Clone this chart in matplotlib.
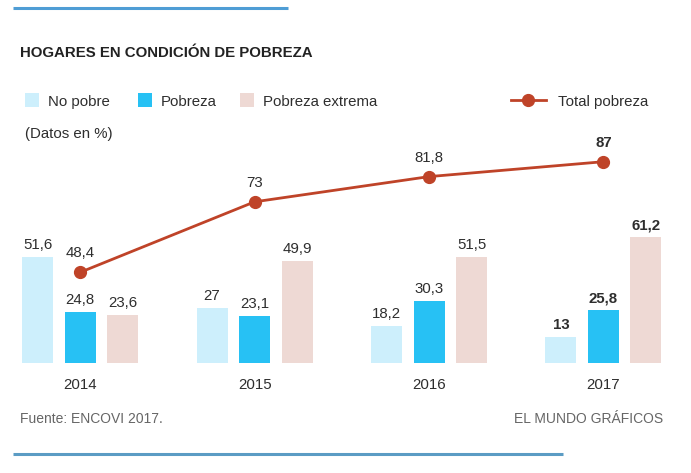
import matplotlib
matplotlib.use("Agg")
import matplotlib.pyplot as plt
import numpy as np
from matplotlib.patches import Rectangle
from matplotlib.lines import Line2D

years = ["2014", "2015", "2016", "2017"]
no_pobre = [51.6, 27, 18.2, 13]
pobreza = [24.8, 23.1, 30.3, 25.8]
pobreza_extrema = [23.6, 49.9, 51.5, 61.2]
total_pobreza = [48.4, 73, 81.8, 87]

bar_labels = [
    ["51,6", "27", "18,2", "13"],
    ["24,8", "23,1", "30,3", "25,8"],
    ["23,6", "49,9", "51,5", "61,2"],
]
line_labels = ["48,4", "73", "81,8", "87"]
bold_last = True

series_names = ["No pobre", "Pobreza", "Pobreza extrema"]
colors = ["#cdeffc", "#27c1f4", "#eed9d4"]
line_color = "#bf4328"
text_color = "#2e2e2e"

plt.rcParams['font.family'] = ['Liberation Sans', 'DejaVu Sans']
FS = 10.8

W, H = 691, 473
fig = plt.figure(figsize=(W / 100, H / 100), dpi=100)

# main axes in pixel layout
px_left, px_right = 20, 670
px_bottom, px_top = 363.3, 140
group_px = 174.4
center0_px = 80.2
x_left = -(center0_px - px_left) / group_px
x_right = 3 + (px_right - (center0_px + 3 * group_px)) / group_px

ax = fig.add_axes([px_left / W, (H - px_bottom) / H, (px_right - px_left) / W, (px_bottom - px_top) / H])
ax.set_xlim(x_left, x_right)
ax.set_ylim(0, (px_bottom - px_top) / 2.06)
ax.axis('off')

x = np.arange(len(years))
bw = 31 / group_px
step = 42.5 / group_px
for k, (vals, col) in enumerate(zip([no_pobre, pobreza, pobreza_extrema], colors)):
    xs = x + (k - 1) * step
    ax.bar(xs, vals, width=bw, color=col, linewidth=0)
    for i, (xx, v) in enumerate(zip(xs, vals)):
        ax.annotate(bar_labels[k][i], (xx, v), xytext=(0, 8), textcoords='offset pixels',
                    ha='center', va='baseline', fontsize=FS, color=text_color,
                    fontweight='bold' if (bold_last and i == len(years) - 1) else 'normal')

for i, yr in enumerate(years):
    ax.annotate(yr, (x[i], 0), xytext=(0, -26), textcoords='offset pixels',
                ha='center', va='baseline', fontsize=FS, color=text_color)

ax2 = ax.twinx()
ax2.set_xlim(x_left, x_right)
lo = 48.4 - (px_bottom - 272.3) / 2.865
hi = 48.4 + (272.3 - px_top) / 2.865
ax2.set_ylim(lo, hi)
ax2.axis('off')
ax2.plot(x, total_pobreza, color=line_color, lw=2, marker='o', markersize=8.5, clip_on=False)
for i, v in enumerate(total_pobreza):
    ax2.annotate(line_labels[i], (x[i], v), xytext=(0, 15), textcoords='offset pixels',
                 ha='center', va='baseline', fontsize=FS, color=text_color,
                 fontweight='bold' if (bold_last and i == len(years) - 1) else 'normal')

# overlay for decorations (pixel coordinates)
ov = fig.add_axes([0, 0, 1, 1], zorder=-1)
ov.set_xlim(0, W)
ov.set_ylim(H, 0)
ov.axis('off')
ov.plot([13, 288], [8, 8], color="#4f9dd5", lw=2.2, solid_capstyle='butt')
ov.plot([13, 563], [454, 454], color="#5b9cc4", lw=2.2, solid_capstyle='butt')

ov.text(20.5, 57.3, "HOGARES EN CONDICIÓN DE POBREZA", fontsize=FS, fontweight='bold',
        color="#222222", ha='left', va='baseline')

leg_x = [25, 137.7, 240]
for lx, col, name in zip(leg_x, colors, series_names):
    ov.add_patch(Rectangle((lx, 93.3), 14, 14, color=col, lw=0))
    ov.text(lx + 23, 105.5, name, fontsize=FS, color=text_color, ha='left', va='baseline')
ov.add_line(Line2D([511, 546], [100, 100], color=line_color, lw=2))
ov.plot([528], [100], 'o', color=line_color, markersize=8.5)
ov.text(558, 105.5, "Total pobreza", fontsize=FS, color=text_color, ha='left', va='baseline')

ov.text(25, 138, "(Datos en %)", fontsize=FS, color=text_color, ha='left', va='baseline')
ov.text(20, 422.5, "Fuente: ENCOVI 2017.", fontsize=FS * 0.93, color="#666666", ha='left', va='baseline')
ov.text(663, 422.5, "EL MUNDO GRÁFICOS", fontsize=FS * 0.93, color="#666666", ha='right', va='baseline')

fig.savefig("out.png", dpi=100, facecolor='white')
